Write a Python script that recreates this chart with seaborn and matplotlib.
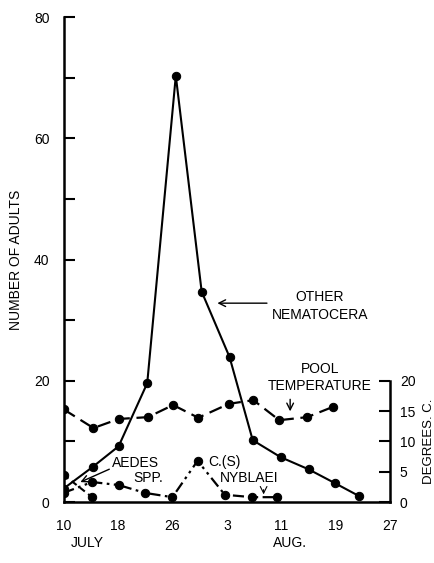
"""Adult emergence vs. pool temperature, July-August."""

import matplotlib
matplotlib.use("Agg")
import matplotlib.pyplot as plt
import seaborn as sns

# days after July 10
tick_days = [0, 8, 16, 24, 32, 40, 48]
tick_labels = ["10", "18", "26", "3", "11", "19", "27"]

nematocera_days = [0, 4.3, 8.1, 12.3, 16.5, 20.3, 24.4, 27.8, 31.9, 36.0, 39.9, 43.4]
nematocera_counts = [2.2, 5.8, 9.2, 19.6, 70.3, 34.7, 23.9, 10.2, 7.4, 5.4, 3.1, 1.0]

temp_days = [0, 4.4, 8.1, 12.4, 16.1, 19.8, 24.3, 27.9, 31.7, 35.8, 39.6]
temp_values = [15.3, 12.2, 13.7, 14.0, 16.0, 13.9, 16.2, 16.8, 13.5, 14.0, 15.7]

nyblaei_days = [0, 4.2, 8.1, 12.0, 16.0, 19.7, 23.7, 27.7, 31.4]
nyblaei_counts = [1.5, 3.3, 2.8, 1.5, 0.8, 6.8, 1.2, 0.8, 0.8]

aedes_days = [0, 4.2]
aedes_counts = [4.5, 0.8]

sns.set_theme(style="white")
plt.rcParams["font.family"] = ["Liberation Sans", "DejaVu Sans"]
plt.rcParams.update({"text.color": "black", "axes.labelcolor": "black",
                     "xtick.color": "black", "ytick.color": "black"})
FS = 10

fig = plt.figure(figsize=(4.35, 5.63), dpi=100)
ax = fig.add_axes([0.146, 0.1083, 0.751, 0.8615])

line_kw = dict(color="black", marker="o", markersize=6, markeredgecolor="black", ax=ax)
sns.lineplot(x=nematocera_days, y=nematocera_counts, linewidth=1.5, **line_kw)
sns.lineplot(x=nyblaei_days, y=nyblaei_counts, linewidth=1.6,
             linestyle=(0, (5, 2, 1.2, 2, 1.2, 2)), **line_kw)
sns.lineplot(x=aedes_days, y=aedes_counts, linewidth=1.5, linestyle=(0, (3, 2)), **line_kw)

ax.set_xlim(0, 48)
ax.set_ylim(0, 80)
ax.set_xticks(tick_days)
ax.set_xticklabels(tick_labels, fontsize=FS)
ax.set_yticks([0, 20, 40, 60, 80])
ax.set_yticks([10, 30, 50, 70], minor=True)
ax.tick_params(axis="y", which="both", direction="in", length=8, width=1.5, labelsize=FS, pad=10)
ax.tick_params(axis="x", direction="out", length=7, width=1.5, labelsize=FS, pad=5)
ax.set_ylabel("NUMBER OF ADULTS", fontsize=FS)
ax.yaxis.set_label_coords(-0.125, 0.5)
for side in ["top", "right"]:
    ax.spines[side].set_visible(False)
for side in ["left", "bottom"]:
    ax.spines[side].set_linewidth(1.8)
    ax.spines[side].set_color("black")

# temperature on its own right-hand scale
ax2 = ax.twinx()
sns.lineplot(x=temp_days, y=temp_values, ax=ax2, color="black", marker="o", markersize=6,
             markeredgecolor="black", linewidth=1.6, linestyle=(0, (6, 3)))
ax2.set_ylim(0, 80)
ax2.set_yticks([0, 5, 10, 15, 20])
ax2.tick_params(axis="y", direction="in", length=8, width=1.5, labelsize=FS, pad=7)
ax2.set_ylabel("DEGREES. C.", fontsize=9.5)
ax2.yaxis.set_label_coords(1.1, 0.125)
for side in ["top", "left", "bottom"]:
    ax2.spines[side].set_visible(False)
ax2.spines["right"].set_bounds(0, 20)
ax2.spines["right"].set_linewidth(1.8)
ax2.spines["right"].set_color("black")

# annotations
ax.annotate("", xy=(22.2, 32.8), xytext=(30.3, 32.8),
            arrowprops=dict(arrowstyle="->", color="black", lw=1))
ax.text(37.7, 32.3, "OTHER\nNEMATOCERA", fontsize=FS, ha="center", va="center", linespacing=1.4)
ax2.text(37.7, 20.5, "POOL\nTEMPERATURE", fontsize=FS, ha="center", va="center", linespacing=1.3)
ax2.annotate("", xy=(33.3, 14.5), xytext=(33.3, 17.4),
             arrowprops=dict(arrowstyle="->", color="black", lw=1))
ax.text(10.6, 6.4, "AEDES", fontsize=FS, ha="center", va="center")
ax.text(12.4, 4.0, "SPP.", fontsize=FS, ha="center", va="center")
ax.annotate("", xy=(2.1, 3.1), xytext=(7.1, 5.6),
            arrowprops=dict(arrowstyle="->", color="black", lw=1))
ax.text(21.2, 6.6, "C.(S)", fontsize=FS, ha="left", va="center")
ax.text(23.0, 4.0, "NYBLAEI", fontsize=FS, ha="left", va="center")
ax.annotate("", xy=(29.4, 0.8), xytext=(29.4, 2.5),
            arrowprops=dict(arrowstyle="->", color="black", lw=0.8))

fig.text(0.20, 0.035, "JULY", fontsize=FS, ha="center", va="center")
fig.text(0.667, 0.035, "AUG.", fontsize=FS, ha="center", va="center")

fig.savefig("out.png", dpi=100)
